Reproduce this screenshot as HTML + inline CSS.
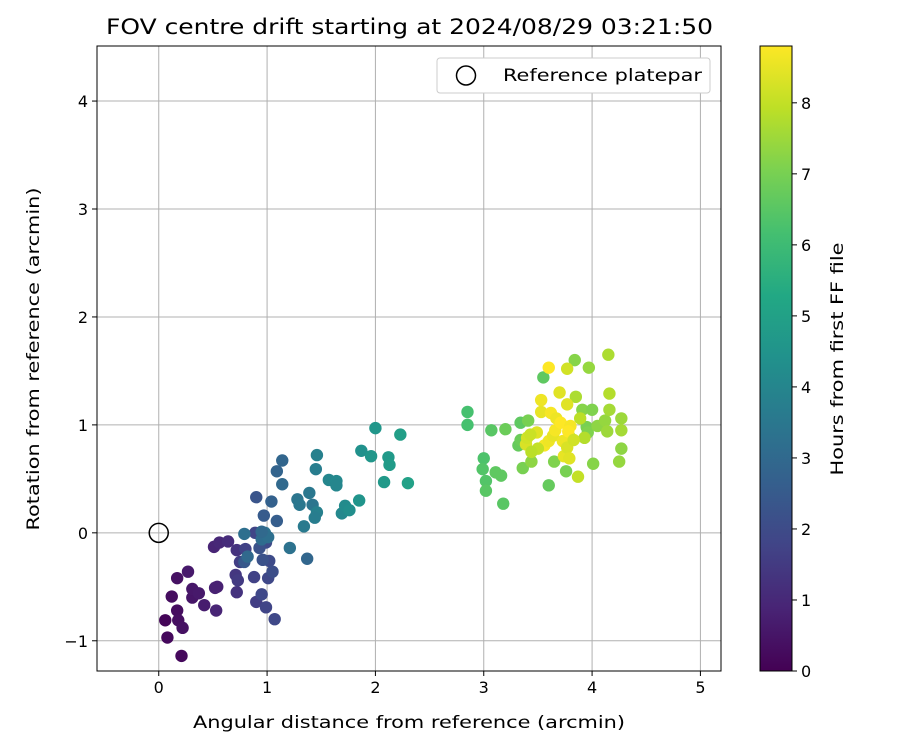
<!DOCTYPE html>
<html><head><meta charset="utf-8"><style>
body{margin:0;background:#fff;}
svg text{font-family:"DejaVu Sans","Liberation Sans",sans-serif;fill:#000;}
</style></head><body>
<svg id="chart" width="900" height="750" xmlns="http://www.w3.org/2000/svg">
<defs><linearGradient id="vir" x1="0" y1="1" x2="0" y2="0">
<stop offset="0" stop-color="#440154"/><stop offset="0.1" stop-color="#482475"/><stop offset="0.2" stop-color="#414487"/><stop offset="0.3" stop-color="#355f8d"/><stop offset="0.4" stop-color="#2a788e"/><stop offset="0.5" stop-color="#21918c"/><stop offset="0.6" stop-color="#22a884"/><stop offset="0.7" stop-color="#44bf70"/><stop offset="0.8" stop-color="#7ad151"/><stop offset="0.9" stop-color="#bddf26"/><stop offset="1" stop-color="#fde725"/></linearGradient></defs>
<text x="409.5" y="34" font-size="21" text-anchor="middle" textLength="607" lengthAdjust="spacingAndGlyphs">FOV centre drift starting at 2024/08/29 03:21:50</text>
<g id="grid"></g><g id="pts"></g><g id="axes"></g>
</svg>
<script>
const xTicks=[0,1,2,3,4,5];
const yTicks=[-1,0,1,2,3,4];
const cbTicks=[0,1,2,3,4,5,6,7,8];
const xs=[0.06,0.08,0.12,0.17,0.17,0.18,0.22,0.21,0.27,0.31,0.31,0.37,0.42,0.51,0.54,0.53,0.56,0.64,0.52,
0.72,0.71,0.72,0.73,0.75,0.80,0.89,0.88,0.90,0.95,0.99,1.01,1.02,1.05,1.07,0.99,0.90,0.96,0.93,0.97,1.04,1.09,1.09,1.14,1.14,0.79,0.79,0.82,0.95,0.98,1.01,0.95,1.21,1.28,1.30,1.34,1.37,1.39,1.42,1.46,1.44,1.46,1.45,1.57,1.64,1.64,1.69,1.72,1.76,1.85,1.87,1.96,2.00,2.08,2.12,2.13,2.23,2.30,
2.85,2.85,3.00,2.99,3.02,3.02,3.07,3.11,3.16,3.18,3.20,3.32,3.34,3.34,3.36,3.41,3.55,3.60,3.44,3.65,3.76,3.84,3.87,3.91,3.95,3.97,3.96,4.00,4.01,4.05,4.12,4.14,4.15,4.16,4.16,4.25,4.27,4.27,4.27,3.85,3.89,3.93,3.80,
3.60,3.53,3.53,3.49,3.56,3.39,3.40,3.43,3.60,3.62,3.67,3.64,3.70,3.66,3.71,3.73,3.74,3.77,3.77,3.77,3.80,3.78,3.79,3.83,3.50,3.44];
const ys=[-0.81,-0.97,-0.59,-0.42,-0.72,-0.81,-0.88,-1.14,-0.36,-0.60,-0.52,-0.56,-0.67,-0.13,-0.50,-0.72,-0.09,-0.08,-0.51,
-0.16,-0.39,-0.55,-0.44,-0.27,-0.15,0.0,-0.41,-0.64,-0.57,-0.09,-0.42,-0.26,-0.36,-0.80,-0.69,0.33,-0.25,-0.14,0.16,0.29,0.11,0.57,0.67,0.45,-0.27,-0.01,-0.22,-0.06,0.0,-0.04,0.01,-0.14,0.31,0.26,0.06,-0.24,0.37,0.26,0.19,0.14,0.72,0.59,0.49,0.48,0.44,0.18,0.25,0.21,0.30,0.76,0.71,0.97,0.47,0.70,0.63,0.91,0.46,
1.12,1.00,0.69,0.59,0.48,0.39,0.95,0.56,0.53,0.27,0.96,0.81,1.02,0.86,0.60,1.04,1.44,0.44,0.66,0.66,0.57,1.60,0.52,1.14,0.98,1.53,0.93,1.14,0.64,0.99,1.04,0.94,1.65,1.29,1.14,0.66,1.06,0.95,0.78,1.26,1.06,0.88,0.88,
1.53,1.23,1.12,0.93,0.81,0.82,0.88,0.91,0.85,1.11,1.06,0.90,1.30,0.95,1.02,0.85,0.71,0.79,1.52,1.19,0.99,0.94,0.69,0.86,0.78,0.75];
const hours=[0.1,0.2,0.3,0.4,0.3,0.35,0.4,0.2,0.6,0.5,0.55,0.6,0.7,0.9,0.8,0.9,1.0,1.1,0.8,
1.3,1.4,1.3,1.5,1.6,1.7,1.8,1.7,1.6,1.9,2.0,1.9,2.0,2.1,1.9,1.8,2.3,2.2,2.2,2.5,2.7,2.6,2.8,2.9,3.0,2.4,3.2,3.0,3.1,3.3,3.2,3.0,3.3,3.4,3.5,3.6,2.9,3.5,3.4,3.8,3.7,3.8,3.7,4.0,4.1,4.0,4.1,4.2,4.3,4.5,4.4,4.6,4.6,4.7,4.7,4.8,4.9,5.0,
6.2,6.2,6.3,6.4,6.4,6.5,6.5,6.6,6.6,6.5,6.8,6.7,6.6,6.8,7.0,7.0,6.6,6.7,7.3,7.1,7.0,7.2,8.0,7.2,7.0,7.4,7.1,7.1,7.2,7.3,7.4,7.5,7.7,7.8,7.6,7.4,7.5,7.6,7.3,7.7,7.9,7.8,7.5,
8.8,8.6,8.5,8.4,8.7,8.3,8.2,8.1,8.6,8.7,8.6,8.5,8.4,8.7,8.8,8.6,8.5,8.3,8.2,8.4,8.7,8.8,8.4,8.2,8.0,7.9];
const L=97,R=721,T=46,B=671,XMIN=-0.57,XMAX=5.19,YMIN=-1.28,YMAX=4.51,HMAX=8.8;
const CBX=760,CBW=32;
const sx=v=>L+(v-XMIN)/(XMAX-XMIN)*(R-L);
const sy=v=>B-(v-YMIN)/(YMAX-YMIN)*(B-T);
const sh=v=>B-v/HMAX*(B-T);
const stops=["#440154","#482475","#414487","#355f8d","#2a788e","#21918c","#22a884","#44bf70","#7ad151","#bddf26","#fde725"].map(h=>[1,3,5].map(i=>parseInt(h.substr(i,2),16)));
function vir(t){t=Math.max(0,Math.min(1,t))*10;const i=Math.min(9,Math.floor(t)),f=t-i;const a=stops[i],b=stops[i+1];return`rgb(${a.map((c,k)=>Math.round(c+(b[k]-c)*f)).join(",")})`;}
const NS="http://www.w3.org/2000/svg";
function mk(tag,at,parent,txt){const e=document.createElementNS(NS,tag);for(const k in at)e.setAttribute(k,at[k]);if(txt!==undefined)e.textContent=txt;parent.appendChild(e);return e;}
const grid=document.getElementById('grid'),pts=document.getElementById('pts'),axes=document.getElementById('axes');
xTicks.forEach(t=>{const x=sx(t);
const g=mk('line',{x1:x,x2:x,y1:T,y2:B,stroke:'#b0b0b0','stroke-width':1},grid);


mk('line',{x1:x,x2:x,y1:B,y2:B+5,stroke:'#000'},axes);
const l=mk('text',{x:x,y:B+22,'font-size':16,'text-anchor':'middle'},axes,t<0?'−'+(-t):t);

});
yTicks.forEach(t=>{const y=sy(t);
const g=mk('line',{x1:L,x2:R,y1:y,y2:y,stroke:'#b0b0b0','stroke-width':1},grid);


mk('line',{x1:L-5,x2:L,y1:y,y2:y,stroke:'#000'},axes);
const l=mk('text',{x:L-9,y:y+6,'font-size':16,'text-anchor':'end'},axes,t<0?'−'+(-t):t);

});
xs.forEach((x,i)=>{const c=mk('circle',{cx:sx(x),cy:sy(ys[i]),r:6.2,fill:vir(hours[i]/HMAX)},pts);

});
const ref=mk('circle',{cx:sx(0),cy:sy(0),r:9.5,fill:'none',stroke:'#000','stroke-width':1.5},pts);


const frame=mk('rect',{x:L,y:T,width:R-L,height:B-T,fill:'none',stroke:'#000','stroke-width':1},axes);


const xt=mk('text',{x:409,y:728,'font-size':17,'text-anchor':'middle',textLength:432,lengthAdjust:'spacingAndGlyphs'},axes,'Angular distance from reference (arcmin)');


const yt=mk('text',{x:0,y:0,'font-size':17,'text-anchor':'middle',textLength:343,lengthAdjust:'spacingAndGlyphs',transform:`translate(39,359) rotate(-90)`},axes,'Rotation from reference (arcmin)');


const lg=mk('g',{},axes);


mk('rect',{x:437,y:58,width:273,height:35,rx:3,fill:'#fff',stroke:'#ccc'},lg);
mk('circle',{cx:466,cy:75.5,r:9.5,fill:'none',stroke:'#000','stroke-width':1.5},lg);
mk('text',{x:503,y:81,'font-size':17,textLength:199,lengthAdjust:'spacingAndGlyphs'},lg,'Reference platepar');
const cb=mk('rect',{x:CBX,y:T,width:CBW,height:B-T,fill:'url(#vir)',stroke:'#000','stroke-width':1},axes);


cbTicks.forEach(t=>{const y=sh(t);
mk('line',{x1:CBX+CBW,x2:CBX+CBW+5,y1:y,y2:y,stroke:'#000'},axes);
const l=mk('text',{x:CBX+CBW+9,y:y+6,'font-size':16},axes,t);

});
const ct=mk('text',{x:0,y:0,'font-size':17,'text-anchor':'middle',textLength:233,lengthAdjust:'spacingAndGlyphs',transform:`translate(843,359) rotate(-90)`},axes,'Hours from first FF file');


</script>
</body></html>
